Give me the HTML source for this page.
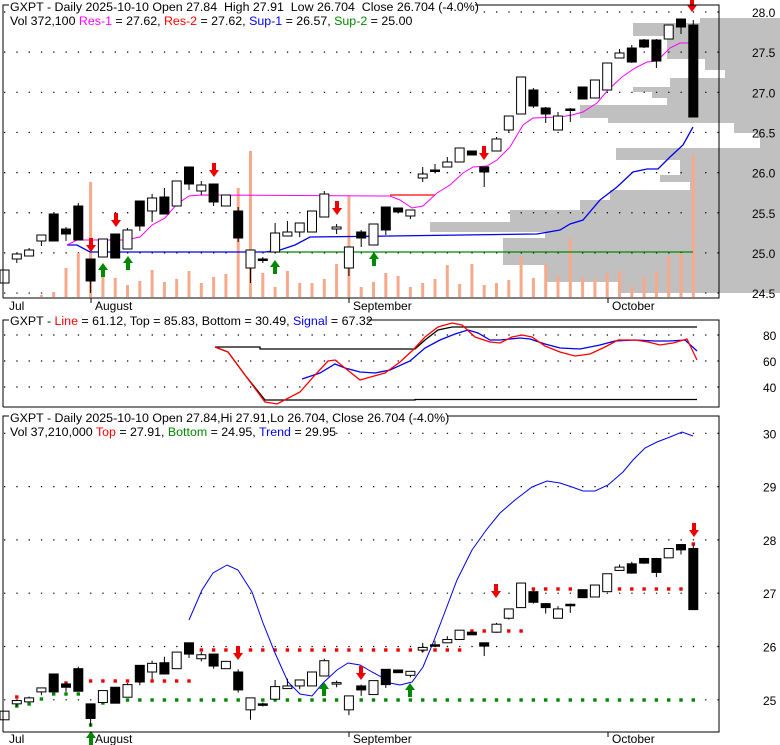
<!DOCTYPE html>
<html><head><meta charset="utf-8"><style>
html,body{margin:0;padding:0;background:#fff}
svg{display:block}
text{font-family:"Liberation Sans",Arial,sans-serif;font-size:12px;white-space:pre}
text.t{font-size:12.4px}
</style></head><body>
<svg id="s" width="780" height="745" xmlns="http://www.w3.org/2000/svg"></svg>
<script>
const S=document.getElementById('s');let h='';
const X=i=>4.5+12.3*i;
const C=[[270,283,0,0,0],[254,259,254,263,0],[250,256,248,256,0],[235,241,235,246,0],[214,241,0,0,1],[229,234,227,241,1],[206,240,203,240,1],[259,281,259,293,1],[239,257,0,0,0],[234,258,0,0,1],[230,249,228,249,0],[201,226,201,231,1],[198,211,194,222,0],[197,214,188,214,1],[181,206,0,0,0],[167,184,167,190,1],[185,191,181,195,0],[184,202,184,206,1],[195,206,0,0,0],[211,238,207,242,1],[250,268,250,283,0],[259,259,257,263,1],[233,252,223,252,0],[232,236,221,236,0],[223,232,223,237,0],[211,232,0,0,0],[194,217,191,217,0],[227,229,224,234,0],[247,268,247,276,0],[232,238,230,247,1],[224,245,0,0,0],[207,230,207,235,1],[208,212,0,0,1],[210,216,210,219,0],[174,178,167,182,0],[170,170,164,173,1],[162,167,157,167,0],[148,162,0,0,0],[151,155,0,0,1],[167,172,167,187,1],[139,151,137,151,0],[116,130,116,132,0],[77,114,0,0,0],[90,106,88,108,1],[108,114,107,123,1],[116,130,112,130,0],[109,109,108,122,1],[87,99,0,0,1],[80,98,0,0,0],[63,90,0,0,0],[53,58,49,58,0],[48,62,45,63,1],[40,47,39,48,1],[40,61,39,68,1],[25,39,0,0,0],[19,27,19,34,1],[25,117,20,117,1]];
const VOL=[297,297,297,295,292,268,253,182,277,278,285,281,270,282,279,271,283,277,274,188,151,273,287,271,283,283,279,264,196,287,282,273,276,287,283,279,265,284,264,285,283,280,257,278,264,276,238,277,279,273,271,287,277,271,256,253,155];
function dots(y,x1,x2){h+=`<line x1="${x1}" y1="${y}" x2="${x2}" y2="${y}" stroke="#000" stroke-width="1.2" stroke-dasharray="1.3 11" />`;}
function pl(pts,c,w){h+=`<polyline fill="none" stroke="${c}" stroke-width="${w||1}" points="${pts.map(p=>p.join(',')).join(' ')}"/>`;}
function candles(T){C.forEach((c,i)=>{let x=X(i);let bt=T(c[0]),bb=T(c[1]);let wt=c[2]?T(c[2]):bt,wb=c[3]?T(c[3]):bb;
h+=`<line x1="${x}" y1="${wt}" x2="${x}" y2="${wb}" stroke="#000"/>`;
let hh=Math.max(bb-bt,1.5);h+=`<rect x="${x-4.5}" y="${bt}" width="9" height="${hh}" fill="${c[4]?'#000':'#fff'}" stroke="#000"/>`;});}
function arrow(x,y,dn,col){
if(dn)h+=`<polygon fill="${col}" points="${x-2},${y-14} ${x+2},${y-14} ${x+2},${y-7} ${x+5},${y-7} ${x},${y} ${x-5},${y-7} ${x-2},${y-7}"/>`;
else h+=`<polygon fill="${col}" points="${x-2},${y+14} ${x+2},${y+14} ${x+2},${y+7} ${x+5},${y+7} ${x},${y} ${x-5},${y+7} ${x-2},${y+7}"/>`;}
function wr(x,y,w,hh){h+=`<rect x="${x}" y="${y}" width="${w}" height="${hh}" fill="#fff"/>`;}
const prof=[[18,23,700],[23,36,633],[36,59,667],[59,70,705],[70,78,725],[78,87,670],[87,92,633],[92,98,652],[98,105,667],[105,118,580],[118,123,608],[123,133,734],[133,138,757],[138,148,760],[148,160,616],[160,175,680],[175,182,660],[182,190,690],[190,200,610],[200,210,580],[210,222,510],[222,232,430],[232,238,545],[238,250,503],[250,265,503],[265,282,545],[282,293,620]];
prof.forEach(p=>h+=`<rect x="${p[2]}" y="${p[0]}" width="${780-p[2]}" height="${p[1]-p[0]}" fill="#c0c0c0"/>`);
for(let k=0;k<8;k++){let y=12+k*40.15;dots(y,4,719);h+=`<text x="752" y="${y+5}">${(28-k*0.5).toFixed(1)}</text>`;}
VOL.forEach((v,i)=>{if(v<296)h+=`<rect x="${X(i)-1.5}" y="${v}" width="3" height="${297-v}" fill="#f7a98c"/>`;});
pl([[267,252],[693,252]],'#008800',1.3);
pl([[67,245],[77,245],[90,252],[265,252],[280,250],[295,245],[310,237],[390,236],[537,234],[560,230],[570,224],[583,220],[600,200],[617,187],[633,172],[647,169],[658,169],[670,157],[683,145],[693,127]],'#0000ee',1.3);
pl([[390,195],[435,195]],'#ff0000',1.3);
pl([[67,245],[77,240],[125,240],[140,237],[152,225],[165,218],[177,204],[189,196],[201,195],[390,196],[400,200],[412,208],[423,206],[437,193],[450,185],[463,173],[473,167],[487,166],[497,160],[510,147],[523,125],[533,118],[560,117],[572,115],[583,112],[597,103],[608,90],[622,77],[635,68],[647,62],[657,61],[670,48],[680,43],[690,43]],'#ff00ff',1);
candles(y=>y);
[[91,252],[116,227],[214,177],[337,215],[484,160],[692,12]].forEach(a=>arrow(a[0],a[1],1,'#ee0000'));
[[103,263],[128,256],[275,260],[374,252]].forEach(a=>arrow(a[0],a[1],0,'#008800'));
wr(8,0,466,13);wr(8,13,382,14);
h+=`<polyline fill="none" stroke="#000" points="3,298 3,5 9,5"/><polyline fill="none" stroke="#000" points="475,5 719,5 719,298 3,298"/>`;
h+=`<text class="t" x="10" y="11">GXPT - Daily 2025-10-10 Open 27.84  High 27.91  Low 26.704  Close 26.704 (-4.0%)</text>`;
h+=`<text class="t" x="10" y="25">Vol 372,100 <tspan fill="#ff00ff">Res-1</tspan> = 27.62, <tspan fill="#ff0000">Res-2</tspan> = 27.62, <tspan fill="#0000ee">Sup-1</tspan> = 26.57, <tspan fill="#008800">Sup-2</tspan> = 25.00</text>`;
[[91,'August'],[349,'September'],[608,'October']].forEach(m=>{h+=`<line x1="${m[0]}" y1="298" x2="${m[0]}" y2="303" stroke="#000"/><text x="${m[0]+4}" y="310">${m[1]}</text>`;h+=`<line x1="${m[0]}" y1="732" x2="${m[0]}" y2="737" stroke="#000"/><text x="${m[0]+4}" y="743">${m[1]}</text>`;});
h+=`<text x="9" y="310">Jul</text><text x="9" y="743">Jul</text>`;
[[80,335],[60,361],[40,387]].forEach(g=>{dots(g[1],4,719);h+=`<text x="763" y="${g[1]+5}">${g[0]}</text>`;});
pl([[215,347],[228,352],[245,375],[265,400],[415,400],[415,399.5],[697,399.5]],'#000',1.3);
pl([[215,347],[260,347],[260,349],[415,349],[425,340],[438,330],[452,327],[697,327]],'#000',1.3);
pl([[302,379],[320,373],[335,364],[345,368],[360,372],[375,373],[390,370],[410,361],[425,348],[440,340],[455,334],[468,330],[478,333],[490,340],[500,340],[520,338],[530,339],[545,344],[560,348],[580,349],[600,345],[615,341],[635,340],[655,341],[670,341],[685,340],[697,351]],'#0000ee',1.3);
pl([[215,347],[228,352],[245,375],[265,402],[277,404],[300,392],[315,375],[328,361],[335,360],[345,368],[360,380],[367,378],[385,373],[400,362],[413,350],[425,337],[438,327],[452,323],[462,325],[475,337],[490,342],[500,343],[512,337],[522,335],[532,337],[545,346],[560,352],[575,356],[590,354],[605,347],[618,340],[635,340],[648,342],[660,345],[673,343],[687,339],[697,360]],'#ff0000',1.3);
wr(8,314,360,13);
h+=`<polyline fill="none" stroke="#000" points="3,407 3,320 9,320"/><polyline fill="none" stroke="#000" points="367,320 719,320 719,407 3,407"/>`;
h+=`<text class="t" x="10" y="325">GXPT - <tspan fill="#ff0000">Line</tspan> = 61.12, Top = 85.83, Bottom = 30.49, <tspan fill="#0000ee">Signal</tspan> = 67.32</text>`;
[30,29,28,27,26,25].forEach(p=>{let y=433.3+(30-p)*53.3;dots(y,4,719);h+=`<text x="763" y="${y+5}">${p}</text>`;});
const T=y=>539.9+(y-12)*0.6638;
function sq(x,y,c){h+=`<rect x="${x-1.7}" y="${y-1.7}" width="3.4" height="3.4" fill="${c}"/>`;}
for(let i=7;i<=15;i++)sq(X(i),681,'#ee0000');
for(let i=16;i<=37;i++)sq(X(i),650,'#ee0000');
for(let i=38;i<=42;i++)sq(X(i),631,'#ee0000');
[43,44,45,46,50,51,52,53,54,55].forEach(i=>sq(X(i),589,'#ee0000'));
sq(X(56),544,'#ee0000');
for(let i=10;i<=56;i++)sq(X(i),700,'#008800');
[[1,706],[2,704],[3,699],[4,694],[5,694],[6,694],[8,703],[7,725]].forEach(a=>sq(X(a[0]),a[1],'#008800'));
[[1,697],[3,690],[5,683],[6,683]].forEach(a=>sq(X(a[0]),a[1],'#ee0000'));
pl([[189,620],[202,590],[213,573],[227,565],[238,570],[252,592],[263,623],[275,653],[288,682],[300,694],[312,696],[323,683],[337,670],[348,663],[360,665],[372,672],[387,680],[390,683],[400,685],[412,682],[423,667],[433,643],[443,617],[457,580],[472,550],[487,529],[500,513],[515,500],[532,487],[547,481],[560,483],[572,487],[583,491],[595,491],[608,485],[623,472],[633,460],[645,448],[657,442],[670,437],[682,432],[693,436]],'#0000ee',1);
candles(T);
[[238,660],[361,680],[496,598],[694,537]].forEach(a=>arrow(a[0],a[1],1,'#ee0000'));
[[324,682],[410,683],[91,731]].forEach(a=>arrow(a[0],a[1],0,'#008800'));
wr(8,410,440,13);wr(8,424,325,14);
h+=`<polyline fill="none" stroke="#000" points="3,732 3,416 9,416"/><polyline fill="none" stroke="#000" points="447,416 719,416 719,732 3,732"/>`;
h+=`<text class="t" x="10" y="422">GXPT - Daily 2025-10-10 Open 27.84,Hi 27.91,Lo 26.704, Close 26.704 (-4.0%)</text>`;
h+=`<text class="t" x="10" y="436">Vol 37,210,000 <tspan fill="#ff0000">Top</tspan> = 27.91, <tspan fill="#008800">Bottom</tspan> = 24.95, <tspan fill="#0000ee">Trend</tspan> = 29.95</text>`;
S.innerHTML=h;
</script>
</body></html>
